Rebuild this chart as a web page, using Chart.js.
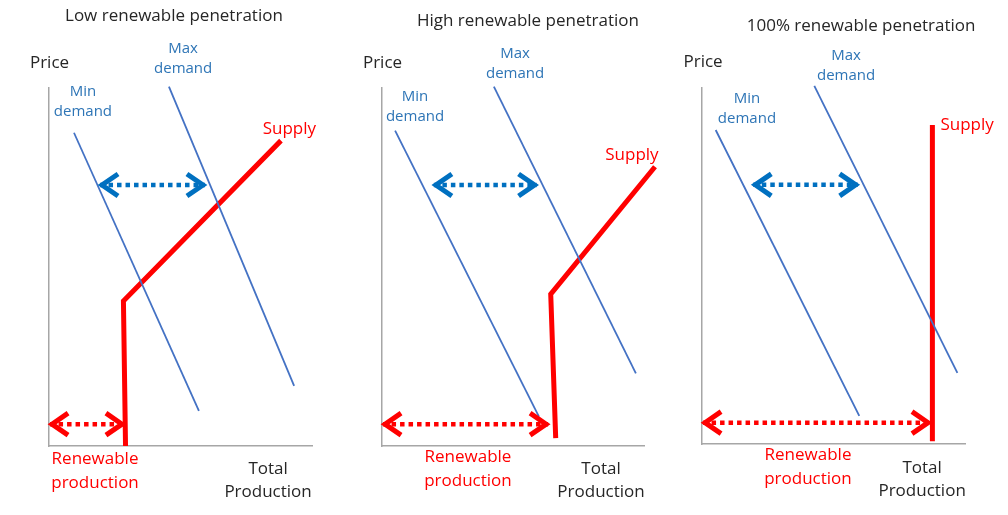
<!DOCTYPE html>
<html>
<head>
<meta charset="utf-8">
<script src="https://cdn.jsdelivr.net/npm/chart.js@4.4.1/dist/chart.umd.min.js"></script>
<style>
	html, body { margin: 0; padding: 0; background: #fff; }
	#wrap { position: relative; width: 1008px; height: 515px; overflow: hidden; }
	#wrap canvas { position: absolute; top: 0; }
</style>
</head>
<body>
<div id="wrap">
	<canvas id="lowChart" width="336" height="515" style="left:0px"></canvas>
	<canvas id="highChart" width="336" height="515" style="left:336px"></canvas>
	<canvas id="fullChart" width="336" height="515" style="left:672px"></canvas>
</div>
<script>
// Panel titles
const panelTitles = ["Low renewable penetration", "High renewable penetration", "100% renewable penetration"];

// Low renewable penetration (x = production, y = price, 0-10 schematic units)
const lowMinDemand = [{ x: 0.95, y: 8.75 }, { x: 5.70, y: 0.98 }];
const lowMaxDemand = [{ x: 4.56, y: 10.04 }, { x: 9.32, y: 1.68 }];
const lowSupply = [{ x: 2.91, y: 0 }, { x: 2.83, y: 4.05 }, { x: 8.82, y: 8.53 }];
const lowDemandRange = [{ x: 1.94, y: 7.29 }, { x: 5.93, y: 7.29 }];
const lowRenewable = [{ x: 0.04, y: 0.61 }, { x: 2.85, y: 0.61 }];

// High renewable penetration
const highMinDemand = [{ x: 0.50, y: 8.81 }, { x: 5.99, y: 0.82 }];
const highMaxDemand = [{ x: 4.27, y: 10.04 }, { x: 9.69, y: 2.03 }];
const highSupply = [{ x: 6.63, y: 0.22 }, { x: 6.44, y: 4.24 }, { x: 10.42, y: 7.80 }];
const highDemandRange = [{ x: 1.98, y: 7.29 }, { x: 5.90, y: 7.29 }];
const highRenewable = [{ x: 0.04, y: 0.61 }, { x: 6.34, y: 0.61 }];

// 100% renewable penetration
const fullMinDemand = [{ x: 0.52, y: 8.82 }, { x: 5.98, y: 0.79 }];
const fullMaxDemand = [{ x: 4.27, y: 10.06 }, { x: 9.71, y: 2.00 }];
const fullSupply = [{ x: 8.76, y: 0.08 }, { x: 8.76, y: 8.96 }];
const fullDemandRange = [{ x: 1.95, y: 7.28 }, { x: 5.92, y: 7.28 }];
const fullRenewable = [{ x: 0.04, y: 0.60 }, { x: 8.67, y: 0.60 }];

const BLUE_LINE = "#4472C4";
const BLUE_ARROW = "#0070C0";
const BLUE_TEXT = "#2E75B6";
const RED = "#FF0000";
const DARK = "#262626";
const FONT = "'Open Sans', 'Noto Sans', sans-serif";

// Plugin: chevron arrowheads on both ends of datasets marked with arrow: true
const arrowHeads = {
	id: "arrowHeads",
	afterDatasetsDraw(chart) {
		const ctx = chart.ctx;
		chart.data.datasets.forEach((ds, i) => {
			if (!ds.arrow) return;
			const pts = chart.getDatasetMeta(i).data;
			const a = pts[0], b = pts[pts.length - 1];
			ctx.save();
			ctx.strokeStyle = ds.borderColor;
			ctx.lineWidth = 5;
			ctx.lineJoin = "miter";
			ctx.lineCap = "butt";
			[[a, 1], [b, -1]].forEach(([p, dir]) => {
				ctx.beginPath();
				ctx.moveTo(p.x + dir * 18, p.y - 11);
				ctx.lineTo(p.x + dir * 2, p.y);
				ctx.lineTo(p.x + dir * 18, p.y + 11);
				ctx.stroke();
			});
			ctx.restore();
		});
	}
};

// Plugin: text labels placed at data coordinates
const panelLabels = {
	id: "panelLabels",
	afterDraw(chart, args, opts) {
		const ctx = chart.ctx;
		const xs = chart.scales.x, ys = chart.scales.y;
		(opts.labels || []).forEach((lab) => {
			const px = xs.getPixelForValue(lab.x);
			const py = ys.getPixelForValue(lab.y);
			const lh = lab.lineHeight || 20;
			ctx.save();
			ctx.font = (lab.size || 17) + "px " + FONT;
			ctx.fillStyle = lab.color;
			ctx.textAlign = "center";
			ctx.textBaseline = "middle";
			lab.lines.forEach((line, k) => {
				ctx.fillText(line, px, py + (k - (lab.lines.length - 1) / 2) * lh);
			});
			ctx.restore();
		});
	}
};

function lineSet(points, color, width, extra) {
	return Object.assign({
		data: points,
		showLine: true,
		borderColor: color,
		borderWidth: width,
		pointRadius: 0,
		fill: false,
		tension: 0,
		clip: false,
		borderCapStyle: "butt",
		borderJoinStyle: "miter"
	}, extra || {});
}

function makePanel(canvasId, title, sets, padding, labelPos) {
	const ctx = document.getElementById(canvasId).getContext("2d");
	const axis = (fitKey) => ({
		type: "linear",
		min: 0,
		max: 10,
		grid: { display: false, drawTicks: false },
		ticks: { display: false },
		border: { display: true, color: "#a6a6a6", width: 1.5 },
		afterFit: (s) => { s[fitKey] = 0; }
	});
	const labels = [
		{ lines: [title], x: labelPos.title[0], y: labelPos.title[1], color: DARK },
		{ lines: ["Price"], x: labelPos.price[0], y: labelPos.price[1], color: DARK },
		{ lines: ["Min", "demand"], x: labelPos.min[0], y: labelPos.min[1], color: BLUE_TEXT, lineHeight: 20, size: 15 },
		{ lines: ["Max", "demand"], x: labelPos.max[0], y: labelPos.max[1], color: BLUE_TEXT, lineHeight: 20, size: 15 },
		{ lines: ["Supply"], x: labelPos.supply[0], y: labelPos.supply[1], color: RED },
		{ lines: ["Renewable", "production"], x: labelPos.renew[0], y: labelPos.renew[1], color: RED, lineHeight: 24 },
		{ lines: ["Total", "Production"], x: labelPos.total[0], y: labelPos.total[1], color: DARK, lineHeight: 23 }
	];
	return new Chart(ctx, {
		type: "scatter",
		data: {
			datasets: [
				lineSet(sets.minDemand, BLUE_LINE, 1.8),
				lineSet(sets.maxDemand, BLUE_LINE, 1.8),
				lineSet(sets.demandRange, BLUE_ARROW, 4.5, { borderDash: [4.5, 4], arrow: true }),
				lineSet(sets.renewable, RED, 4.5, { borderDash: [4.5, 4], arrow: true }),
				lineSet(sets.supply, RED, 5)
			]
		},
		options: {
			responsive: false,
			animation: false,
			layout: { padding: padding },
			scales: { x: axis("height"), y: axis("width") },
			plugins: {
				legend: { display: false },
				tooltip: { enabled: false },
				panelLabels: { labels: labels }
			}
		},
		plugins: [arrowHeads, panelLabels]
	});
}

makePanel("lowChart", panelTitles[0],
	{ minDemand: lowMinDemand, maxDemand: lowMaxDemand, supply: lowSupply, demandRange: lowDemandRange, renewable: lowRenewable },
	{ left: 49, right: 24, top: 88, bottom: 69 },
	{ title: [4.75, 12.01], price: [0.02, 10.70], min: [1.29, 9.61], max: [5.10, 10.81], supply: [9.14, 8.85], renew: [1.75, -0.70], total: [8.33, -0.96] });

makePanel("highChart", panelTitles[1],
	{ minDemand: highMinDemand, maxDemand: highMaxDemand, supply: highSupply, demandRange: highDemandRange, renewable: highRenewable },
	{ left: 46, right: 28, top: 88, bottom: 69 },
	{ title: [5.57, 11.87], price: [0.02, 10.70], min: [1.26, 9.48], max: [5.08, 10.67], supply: [9.54, 8.13], renew: [3.28, -0.66], total: [8.36, -0.96] });

makePanel("fullChart", panelTitles[2],
	{ minDemand: fullMinDemand, maxDemand: fullMaxDemand, supply: fullSupply, demandRange: fullDemandRange, renewable: fullRenewable },
	{ left: 30, right: 43, top: 88, bottom: 71 },
	{ title: [6.05, 11.74], price: [0.04, 10.73], min: [1.71, 9.41], max: [5.48, 10.62], supply: [10.08, 8.96], renew: [4.03, -0.66], total: [8.37, -1.00] });
</script>
</body>
</html>
